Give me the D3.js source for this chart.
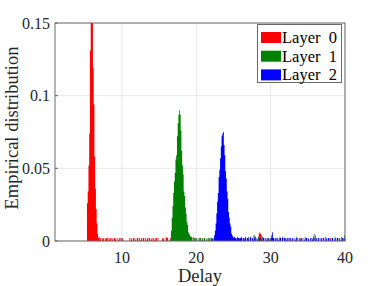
<!DOCTYPE html>
<html><head><meta charset="utf-8">
<script src="https://cdn.jsdelivr.net/npm/d3@7"></script>
<style>body{margin:0;background:#fff}svg{display:block}</style>
</head><body><svg id="c" width="382" height="286"></svg>
<script>
// ---- data ----
const layers = ["Layer  0", "Layer  1", "Layer  2"];
const colors = ["#ff0000", "#008000", "#0000ff"];
const binWidth = 0.1;
const xTicks = [10, 20, 30, 40];
const yTicks = [0, 0.05, 0.1, 0.15];
const yTickLabels = ["0", "0.05", "0.1", "0.15"];

// main peaks: start delay + consecutive bin values
const peak0Start = 5.3;
const peak0 = [0.026, 0.034, 0.052, 0.074, 0.131, 0.16, 0.175, 0.162, 0.119, 0.094, 0.058, 0.036, 0.022, 0.012, 0.005, 0.002];
const peak1Start = 16.6;
const peak1 = [0.007, 0.016, 0.024, 0.033, 0.041, 0.047, 0.056, 0.059, 0.072, 0.081, 0.087, 0.090, 0.087, 0.076, 0.062, 0.052, 0.046, 0.034, 0.031, 0.023, 0.019, 0.013, 0.011, 0.006, 0.005, 0.004, 0.003];
const peak2Start = 22.4;
const peak2 = [0.004, 0.007, 0.012, 0.019, 0.027, 0.033, 0.044, 0.049, 0.057, 0.065, 0.072, 0.074, 0.075, 0.066, 0.059, 0.048, 0.043, 0.034, 0.029, 0.020, 0.016, 0.012, 0.010, 0.005, 0.004, 0.003, 0.002];

// sparse tails: [delay, value]
const tail0 = [[6.9,0.003],[7.0,0.001],[7.1,0.002],[7.3,0.002],[7.4,0.001],[7.5,0.002],[7.7,0.002],[7.8,0.001],[7.9,0.002],[8.0,0.002],[8.2,0.002],[8.3,0.001],[8.4,0.002],[8.6,0.002],[8.7,0.001],[8.9,0.002],[9.0,0.002],[9.1,0.001],[9.3,0.002],[9.5,0.001],[9.6,0.002],[9.8,0.002],[10.0,0.002],[10.1,0.001],[11.0,0.002],[11.2,0.002],[11.3,0.001],[11.5,0.002],[11.6,0.002],[11.8,0.001],[12.0,0.002],[12.1,0.002],[12.3,0.002],[12.5,0.001],[12.6,0.002],[12.8,0.002],[12.9,0.002],[13.1,0.002],[13.3,0.001],[13.4,0.002],[13.6,0.002],[13.7,0.002],[13.9,0.001],[14.0,0.002],[14.2,0.002],[14.3,0.001],[14.5,0.002],[14.6,0.002],[14.8,0.002],[15.4,0.002],[15.5,0.001],[15.6,0.002],[15.9,0.003],[16.0,0.002],[16.1,0.002],[16.5,0.002],[16.7,0.003],[17.0,0.002],[19.3,0.002],[19.8,0.002],[20.5,0.002],[21.0,0.001],[21.7,0.002],[22.2,0.002],[24.8,0.002],[26.0,0.002],[27.2,0.003],[27.7,0.004],[28.4,0.005],[28.5,0.006],[28.6,0.005],[28.7,0.004],[29.3,0.002],[30.6,0.002],[32.5,0.002],[34.0,0.002],[36.8,0.002],[38.0,0.002]];
const tail1 = [[16.3,0.001],[19.3,0.003],[19.4,0.002],[19.6,0.003],[19.7,0.002],[19.9,0.002],[20.0,0.001],[20.2,0.002],[20.4,0.002],[20.5,0.002],[20.7,0.001],[20.8,0.002],[21.0,0.002],[21.1,0.002],[21.3,0.001],[21.4,0.002],[21.6,0.002],[21.7,0.001],[21.9,0.002],[22.0,0.002],[22.1,0.001],[25.2,0.002],[25.8,0.002],[26.3,0.002],[27.0,0.003],[27.8,0.004],[28.3,0.003],[28.8,0.003],[29.7,0.002],[31.2,0.003],[32.0,0.002],[33.4,0.003],[34.6,0.003],[35.7,0.003],[35.8,0.005],[36.0,0.004],[37.3,0.003],[38.6,0.003],[39.5,0.003],[39.9,0.004]];
const tail2 = [[22.1,0.001],[22.2,0.002],[25.1,0.003],[25.2,0.002],[25.3,0.002],[25.4,0.001],[25.5,0.003],[25.6,0.002],[25.7,0.002],[25.8,0.001],[25.9,0.002],[26.0,0.003],[26.1,0.002],[26.3,0.002],[26.4,0.001],[26.5,0.002],[26.6,0.003],[26.8,0.002],[26.9,0.002],[27.0,0.001],[27.2,0.002],[27.3,0.003],[27.5,0.002],[27.6,0.001],[27.8,0.002],[27.9,0.003],[28.1,0.002],[28.2,0.001],[28.4,0.002],[28.5,0.002],[28.7,0.001],[28.9,0.003],[29.0,0.002],[29.2,0.002],[29.4,0.001],[29.5,0.002],[29.7,0.002],[29.8,0.001],[30.0,0.002],[30.1,0.004],[30.2,0.006],[30.3,0.002],[30.4,0.002],[30.6,0.001],[30.7,0.002],[30.9,0.002],[31.0,0.001],[31.2,0.002],[31.3,0.002],[31.5,0.002],[31.6,0.003],[31.8,0.002],[31.9,0.002],[32.1,0.001],[32.2,0.002],[32.4,0.002],[32.6,0.002],[32.8,0.001],[32.9,0.002],[33.1,0.002],[33.3,0.001],[33.4,0.002],[33.6,0.002],[33.8,0.002],[34.0,0.001],[34.1,0.002],[34.3,0.002],[34.5,0.001],[34.7,0.002],[34.8,0.002],[35.0,0.002],[35.1,0.001],[35.3,0.002],[35.5,0.002],[35.6,0.001],[35.9,0.002],[36.1,0.002],[36.3,0.001],[36.4,0.002],[36.6,0.002],[36.8,0.001],[37.0,0.002],[37.1,0.002],[37.4,0.001],[37.5,0.002],[37.7,0.002],[37.8,0.002],[38.0,0.001],[38.2,0.002],[38.3,0.002],[38.5,0.001],[38.7,0.002],[38.9,0.002],[39.0,0.002],[39.2,0.002],[39.4,0.001],[39.6,0.002],[39.7,0.002],[39.9,0.002]];

const peaks = [[peak0Start, peak0], [peak1Start, peak1], [peak2Start, peak2]];
const tails = [tail0, tail1, tail2];

// ---- layout ----
const svg = d3.select("#c");
const m = {l: 55, r: 345, t: 23, b: 241};
const x = d3.scaleLinear().domain([1, 40]).range([m.l, m.r]);
const y = d3.scaleLinear().domain([0, 0.15]).range([m.b, m.t]);
const font = "'Liberation Serif','Times New Roman',serif";

// grid
const g = svg.append("g");
g.selectAll(".gx").data(xTicks).join("line")
  .attr("x1", d => x(d)).attr("x2", d => x(d)).attr("y1", m.t).attr("y2", m.b)
  .attr("stroke", "#e8e8e8").attr("stroke-width", 1);
g.selectAll(".gy").data(yTicks).join("line")
  .attr("x1", m.l).attr("x2", m.r).attr("y1", d => y(d)).attr("y2", d => y(d))
  .attr("stroke", "#e8e8e8").attr("stroke-width", 1);

svg.append("clipPath").attr("id", "clip").append("rect")
  .attr("x", m.l).attr("y", m.t).attr("width", m.r - m.l).attr("height", m.b - m.t);

// build bins per layer
function buildBins(i) {
  const map = new Map();
  const [s, vals] = peaks[i];
  vals.forEach((v, k) => map.set(Math.round((s + k * binWidth) * 10), v));
  tails[i].forEach(([d, v]) => { const key = Math.round(d * 10); if (!map.has(key)) map.set(key, v); });
  const keys = [...map.keys()];
  const lo = d3.min(keys), hi = d3.max(keys);
  const bins = [];
  for (let k = lo; k <= hi; k++) bins.push({x0: k / 10, v: map.get(k) || 0});
  bins.push({x0: (hi + 1) / 10, v: 0});
  return bins;
}
const area = d3.area().curve(d3.curveStepAfter)
  .x(d => x(d.x0)).y0(y(0)).y1(d => y(d.v));

const plot = svg.append("g").attr("clip-path", "url(#clip)");
layers.forEach((name, i) => {
  plot.append("path").datum(buildBins(i))
    .attr("d", area).attr("fill", colors[i]).attr("stroke", "none");
});

// axes box
const axisColor = "#6a6a6a";
svg.append("rect").attr("x", m.l).attr("y", m.t).attr("width", m.r - m.l).attr("height", m.b - m.t)
  .attr("fill", "none").attr("stroke", axisColor).attr("stroke-width", 1);
svg.selectAll(".tx").data(xTicks).join("line")
  .attr("x1", d => x(d)).attr("x2", d => x(d)).attr("y1", m.b).attr("y2", m.b - 3)
  .attr("stroke", axisColor);
svg.selectAll(".ty").data(yTicks).join("line")
  .attr("x1", m.l).attr("x2", m.l + 3).attr("y1", d => y(d)).attr("y2", d => y(d))
  .attr("stroke", axisColor);

// tick labels
svg.selectAll(".xl").data(xTicks).join("text")
  .attr("x", d => x(d)).attr("y", 263).attr("text-anchor", "middle")
  .attr("font-family", font).attr("font-size", 16).attr("fill", "#262626").text(d => d);
svg.selectAll(".yl").data(yTicks).join("text")
  .attr("x", 50).attr("y", d => y(d) + 5.5).attr("text-anchor", "end")
  .attr("font-family", font).attr("font-size", 16).attr("fill", "#262626").text((d, i) => yTickLabels[i]);

// axis titles
svg.append("text").attr("x", 200).attr("y", 282).attr("text-anchor", "middle")
  .attr("font-family", font).attr("font-size", 18.5).attr("fill", "#262626").text("Delay");
svg.append("text").attr("transform", "translate(18,128) rotate(-90)").attr("text-anchor", "middle")
  .attr("font-family", font).attr("font-size", 18.5).attr("fill", "#262626").text("Empirical distribution");

// legend
const lg = svg.append("g");
lg.append("rect").attr("x", 257.5).attr("y", 24.5).attr("width", 84).attr("height", 58)
  .attr("fill", "#fff").attr("stroke", "#6a6a6a").attr("stroke-width", 1);
layers.forEach((name, i) => {
  const cy = 37.5 + i * 18.7;
  lg.append("rect").attr("x", 261).attr("y", cy - 5.5).attr("width", 20).attr("height", 11).attr("fill", colors[i]);
  lg.append("text").attr("x", 282).attr("y", cy + 5.5).attr("font-family", font).attr("font-size", 16.5)
    .attr("fill", "#000").style("white-space", "pre").text(name);
});
</script></body></html>
